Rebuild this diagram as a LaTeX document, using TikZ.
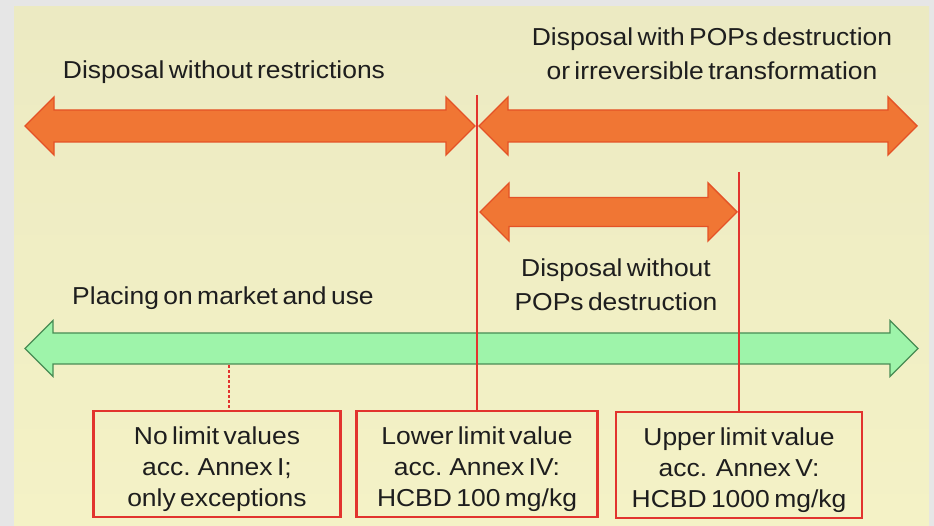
\documentclass[tikz,border=0pt]{standalone}
\usepackage{fontspec}
\setmainfont[FakeStretch=1.08,WordSpace=0.6]{Liberation Sans}
\definecolor{bggray}{RGB}{230,230,230}
\definecolor{paneltop}{RGB}{236,234,194}
\definecolor{panelmid}{RGB}{252,250,220}
\definecolor{panelbot}{RGB}{244,242,198}
\definecolor{orfill}{RGB}{240,118,52}
\definecolor{ordraw}{RGB}{228,82,38}
\definecolor{grfill}{RGB}{158,244,170}
\definecolor{grdraw}{RGB}{72,140,84}
\definecolor{redline}{RGB}{226,52,46}
\definecolor{txt}{RGB}{30,30,30}
% #1 style, #2 x left tip, #3 x right tip, #4 y, #5 half shaft, #6 half head (= head length)
\newcommand\dblarrowpath[6]{%
  \draw[#1] (#2,#4) -- ({#2+#6},{#4-#6}) -- ({#2+#6},{#4-#5}) -- ({#3-#6},{#4-#5})
    -- ({#3-#6},{#4-#6}) -- (#3,#4) -- ({#3-#6},{#4+#6}) -- ({#3-#6},{#4+#5})
    -- ({#2+#6},{#4+#5}) -- ({#2+#6},{#4+#6}) -- cycle;}
\begin{document}
\begin{tikzpicture}[x=1pt,y=-1pt,
  lbl/.style={font=\fontsize{24.5}{34}\selectfont, text=txt, align=center, inner sep=0pt},
  boxlbl/.style={font=\fontsize{24.5}{31}\selectfont, text=txt, align=center, inner sep=0pt},
  limitbox/.style={draw=redline, line width=2.1pt, inner sep=0pt, minimum height=106pt},
  orarrow/.style={fill=orfill, draw=ordraw, line width=1.4pt, line join=miter},
  grarrow/.style={fill=grfill, draw=grdraw, line width=1.2pt, line join=miter},
  marker/.style={draw=redline, line width=1.6pt},
  dmarker/.style={draw=redline, line width=1.3pt, dashed, dash pattern=on 3pt off 2pt}]
\useasboundingbox (0,0) rectangle (934,526);
\fill[bggray] (0,0) rectangle (934,526);
\fill[top color=paneltop, middle color=panelmid, bottom color=panelbot] (14,7) rectangle (929,526);

% arrows
\dblarrowpath{orarrow}{25}{475}{126}{16}{29}
\dblarrowpath{orarrow}{479}{917}{126}{16}{29}
\dblarrowpath{orarrow}{480}{737}{212}{14.5}{29}
\dblarrowpath{grarrow}{25}{918}{348.5}{15.5}{28}

% labels
\node[lbl] (lfree) at (224,72) {Disposal without restrictions};
\node[lbl] (ldestr) at (712,54) {Disposal with POPs destruction\\or irreversible transformation};
\node[lbl] (lnodestr) at (616,285) {Disposal without\\POPs destruction};
\node[lbl] (lmarket) at (223,298) {Placing on market and use};

% boxes
\node[limitbox, minimum width=247pt] (box1) at (217,464) {};
\node[limitbox, minimum width=241pt] (box2) at (477,464) {};
\node[limitbox, minimum width=246pt] (box3) at (739,465) {};
\node[boxlbl] (box1txt) at ([yshift=-5pt]box1.center) {No limit values\\acc. Annex I;\\only exceptions};
\node[boxlbl] (box2txt) at ([yshift=-5pt]box2.center) {Lower limit value\\acc. Annex IV:\\HCBD 100 mg/kg};
\node[boxlbl] (box3txt) at ([yshift=-5pt]box3.center) {Upper limit value\\acc.~~Annex V:\\HCBD 1000 mg/kg};

% marker lines
\coordinate (low) at (477,95);
\coordinate (up) at (739,172);
\coordinate (none) at (229,365);
\draw[marker] (low) -- (box2.north);
\draw[marker] (up) -- (box3.north);
\draw[dmarker] (none) -- (none |- box1.north);
\end{tikzpicture}
\end{document}
